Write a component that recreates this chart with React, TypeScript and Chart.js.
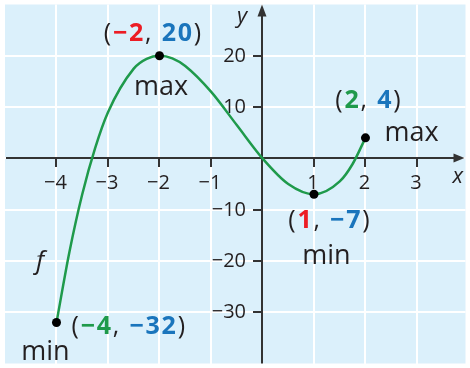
import React, { useEffect, useRef } from 'react';
import { Chart, registerables } from 'chart.js';

Chart.register(...registerables);

// ---- data ----
const curveX = [-4, -3.75, -3.5, -3.25, -3, -2.5, -2.25, -2, -1.75, -1.5, -1, -0.5, 0, 0.5, 1, 1.5, 1.75, 2];
const curveY = [-32, -18.3, -7, 2, 9, 17.5, 19.4, 20, 19.5, 18, 13, 6.5, 0, -5, -7, -4.5, -1.1, 4];
const keyX = [-4, -2, 1, 2];
const keyY = [-32, 20, -7, 4];
const keyXText = ['−4', '−2', '1', '2'];
const keyYText = ['−32', '20', '−7', '4'];
const keyKind = ['min', 'max', 'min', 'max'];
const xTickValues = [-4, -3, -2, -1, 1, 2, 3];
const xTickLabels = ['−4', '−3', '−2', '−1', '1', '2', '3'];
const yTickValues = [20, 10, -10, -20, -30];
const yTickLabels = ['20', '10', '−10', '−20', '−30'];
const xGridValues = [-4, -3, -2, -1, 0, 1, 2, 3];
const yGridValues = [20, 10, 0, -10, -20, -30];
const functionName = 'f';
const xAxisName = 'x';
const yAxisName = 'y';

// ---- styles ----
const BG = '#dbf0fb';
const GREEN = '#1f9a4b';
const RED = '#ec1c24';
const BLUE = '#1a75bc';
const AXIS = '#333333';
const TEXT = '#231f20';
const FONT = '"Open Sans", "Noto Sans", sans-serif';

type Seg = { t: string; c: string; f: string };

function drawSegs(ctx: CanvasRenderingContext2D, segs: Seg[], x: number, y: number, align: 'left' | 'center', spacing: number) {
  const chars: { ch: string; c: string; f: string; w: number }[] = [];
  segs.forEach((s) => {
    ctx.font = s.f;
    for (const ch of s.t) chars.push({ ch, c: s.c, f: s.f, w: ctx.measureText(ch).width });
  });
  const total = chars.reduce((a, b) => a + b.w, 0) + spacing * (chars.length - 1);
  let cx = align === 'center' ? x - total / 2 : x;
  ctx.textAlign = 'left';
  ctx.textBaseline = 'alphabetic';
  chars.forEach((c) => {
    ctx.font = c.f;
    ctx.fillStyle = c.c;
    ctx.fillText(c.ch, cx, y);
    cx += c.w + spacing;
  });
}

const decorPlugin = {
  id: 'decor',
  beforeDraw(chart: any) {
    const { ctx, chartArea: a } = chart;
    ctx.save();
    ctx.fillStyle = BG;
    ctx.fillRect(a.left, a.top, a.right - a.left, a.bottom - a.top);
    ctx.restore();
  },
  beforeDatasetsDraw(chart: any) {
    const { ctx, chartArea: a } = chart;
    const xs = chart.scales.x;
    const ys = chart.scales.y;
    const x0 = Math.round(xs.getPixelForValue(0));
    const y0 = Math.round(ys.getPixelForValue(0));
    ctx.save();
    ctx.strokeStyle = AXIS;
    ctx.fillStyle = AXIS;
    ctx.lineWidth = 2;
    // x axis
    ctx.beginPath();
    ctx.moveTo(a.left + 1, y0);
    ctx.lineTo(a.right - 8, y0);
    ctx.stroke();
    ctx.beginPath();
    ctx.moveTo(a.right - 1, y0);
    ctx.lineTo(a.right - 12, y0 - 4.5);
    ctx.lineTo(a.right - 12, y0 + 4.5);
    ctx.closePath();
    ctx.fill();
    // y axis
    ctx.beginPath();
    ctx.moveTo(x0, a.bottom);
    ctx.lineTo(x0, a.top + 8);
    ctx.stroke();
    ctx.beginPath();
    ctx.moveTo(x0, a.top);
    ctx.lineTo(x0 - 4.5, a.top + 12);
    ctx.lineTo(x0 + 4.5, a.top + 12);
    ctx.closePath();
    ctx.fill();
    // ticks
    ctx.beginPath();
    xTickValues.forEach((v) => {
      const px = Math.round(xs.getPixelForValue(v));
      ctx.moveTo(px, y0);
      ctx.lineTo(px, y0 + 9);
    });
    yTickValues.forEach((v) => {
      const py = Math.round(ys.getPixelForValue(v));
      ctx.moveTo(x0 - 9, py);
      ctx.lineTo(x0, py);
    });
    ctx.stroke();
    // tick labels
    ctx.fillStyle = TEXT;
    ctx.font = `20px ${FONT}`;
    ctx.textBaseline = 'alphabetic';
    ctx.textAlign = 'center';
    xTickValues.forEach((v, i) => {
      const px = xs.getPixelForValue(v);
      ctx.fillText(xTickLabels[i], px - 1, y0 + 31);
    });
    ctx.textAlign = 'right';
    yTickValues.forEach((v, i) => {
      const py = ys.getPixelForValue(v);
      ctx.fillText(yTickLabels[i], x0 - 16, py + 6);
    });
    // axis names
    ctx.font = `italic 22px ${FONT}`;
    ctx.textAlign = 'left';
    ctx.fillText(yAxisName, x0 - 25, a.top + 18);
    ctx.fillText(xAxisName, a.right - 13, y0 + 25);
    ctx.restore();
  },
  afterDatasetsDraw(chart: any) {
    const { ctx } = chart;
    const xs = chart.scales.x;
    const ys = chart.scales.y;
    ctx.save();
    const reg = `25px ${FONT}`;
    const bold = `bold 25px ${FONT}`;
    const kindFont = `27px ${FONT}`;
    const xColors = [GREEN, RED, RED, GREEN];
    const coordPos = [
      { dx: 15, dy: 12, align: 'left' },
      { dx: -7, dy: -15, align: 'center' },
      { dx: 15, dy: 34, align: 'center' },
      { dx: 2.5, dy: -30, align: 'center' },
    ];
    const kindPos = [
      { dx: -11, dy: 38, align: 'center' },
      { dx: 1.5, dy: 39, align: 'center' },
      { dx: 12.5, dy: 70, align: 'center' },
      { dx: 19, dy: 3, align: 'left' },
    ];
    keyX.forEach((xv, i) => {
      const px = xs.getPixelForValue(xv);
      const py = ys.getPixelForValue(keyY[i]);
      const segs: Seg[] = [
        { t: '(', c: TEXT, f: reg },
        { t: keyXText[i], c: xColors[i], f: bold },
        { t: ', ', c: TEXT, f: reg },
        { t: keyYText[i], c: BLUE, f: bold },
        { t: ')', c: TEXT, f: reg },
      ];
      const cp = coordPos[i];
      drawSegs(ctx, segs, px + cp.dx, py + cp.dy, cp.align as any, 1.8);
      const kp = kindPos[i];
      ctx.font = kindFont;
      ctx.fillStyle = TEXT;
      ctx.textAlign = kp.align;
      ctx.textBaseline = 'alphabetic';
      ctx.fillText(keyKind[i], px + kp.dx, py + kp.dy);
    });
    // function name
    ctx.font = `italic 26px ${FONT}`;
    ctx.fillStyle = TEXT;
    ctx.textAlign = 'left';
    ctx.fillText(functionName, xs.getPixelForValue(-4.4), ys.getPixelForValue(-21.5));
    ctx.restore();
  },
};

export default function App() {
  const ref = useRef<HTMLCanvasElement | null>(null);
  useEffect(() => {
    if (!ref.current) return;
    const chart = new Chart(ref.current, {
      type: 'line',
      data: {
        datasets: [
          {
            data: keyX.map((x, i) => ({ x, y: keyY[i] })),
            showLine: false,
            pointRadius: 4.5,
            pointBackgroundColor: '#000',
            pointBorderWidth: 0,
            borderColor: '#000',
          },
          {
            data: curveX.map((x, i) => ({ x, y: curveY[i] })),
            borderColor: GREEN,
            borderWidth: 2.5,
            pointRadius: 0,
            cubicInterpolationMode: 'monotone',
            fill: false,
          },
        ],
      },
      options: {
        animation: false,
        responsive: true,
        maintainAspectRatio: false,
        events: [],
        layout: { padding: { left: 5, right: 0, top: 1, bottom: 3 } },
        plugins: { legend: { display: false }, tooltip: { enabled: false } },
        scales: {
          x: {
            type: 'linear',
            min: -5,
            max: -5 + 465 / 52,
            afterBuildTicks: (s: any) => {
              s.ticks = xGridValues.map((v) => ({ value: v }));
            },
            ticks: { display: false },
            border: { display: false },
            grid: { color: '#ffffff', lineWidth: 2, drawTicks: false },
          },
          y: {
            type: 'linear',
            min: -40,
            max: 30,
            afterBuildTicks: (s: any) => {
              s.ticks = yGridValues.map((v) => ({ value: v }));
            },
            ticks: { display: false },
            border: { display: false },
            grid: { color: '#ffffff', lineWidth: 2, drawTicks: false },
          },
        },
      },
      plugins: [decorPlugin],
    } as any);
    return () => chart.destroy();
  }, []);
  return (
    <div style={{ position: 'absolute', left: 0, top: 0, width: 470, height: 368 }}>
      <canvas ref={ref} />
    </div>
  );
}
